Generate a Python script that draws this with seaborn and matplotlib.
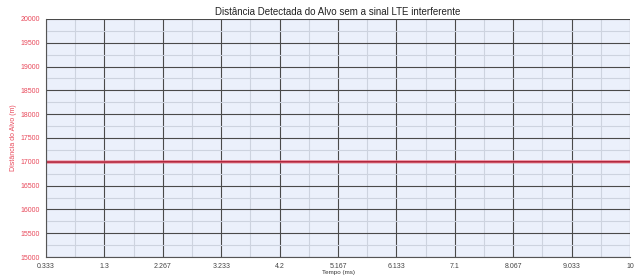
import numpy as np
import pandas as pd
import matplotlib
matplotlib.use("Agg")
import matplotlib.pyplot as plt
import seaborn as sns
from matplotlib.ticker import FixedLocator, MultipleLocator

# --- data ---
tempo_ms = [0.333, 1.3, 2.267, 3.233, 4.2, 5.167, 6.133, 7.1, 8.067, 9.033, 10.0]
distancia_m = [16995, 16995, 17000, 17000, 17000, 17000, 17000, 17000, 17000, 17000, 17000]
x_tick_labels = ["0.333", "1.3", "2.267", "3.233", "4.2", "5.167", "6.133", "7.1", "8.067", "9.033", "10"]
y_ticks = [15000, 15500, 16000, 16500, 17000, 17500, 18000, 18500, 19000, 19500, 20000]

df = pd.DataFrame({"Tempo": tempo_ms, "Distancia": distancia_m})

sns.set_style("white")
plt.rcParams["font.family"] = ["Liberation Sans", "DejaVu Sans"]

fig = plt.figure(figsize=(6.34, 2.76), dpi=100)
ax = fig.add_axes([46 / 634, 1 - 257 / 276, (630 - 46) / 634, (257 - 19) / 276])
ax.set_facecolor("#ebf0fb")

# minor / major grid
minor_x = [(tempo_ms[i] + tempo_ms[i + 1]) / 2 for i in range(len(tempo_ms) - 1)]
ax.xaxis.set_minor_locator(FixedLocator(minor_x))
ax.yaxis.set_minor_locator(MultipleLocator(250))
ax.grid(which="minor", color="#cdd3df", lw=0.8)
ax.grid(which="major", color="#4a4a4a", lw=0.8)
ax.set_axisbelow(True)

sns.lineplot(data=df, x="Tempo", y="Distancia", ax=ax, color="#f07a8a", lw=2.2)
sns.lineplot(data=df, x="Tempo", y="Distancia", ax=ax, color="#a01830", lw=0.9)

ax.set_xlim(tempo_ms[0], tempo_ms[-1])
ax.set_ylim(15000, 20000)
ax.set_xticks(tempo_ms)
ax.set_xticklabels(x_tick_labels)
ax.set_yticks(y_ticks)
ax.set_yticklabels([str(v) for v in y_ticks])

ax.tick_params(axis="both", which="major", labelsize=5, length=3, width=0.6, color="#555555", pad=1.5)
ax.tick_params(axis="both", which="minor", length=0)
ax.tick_params(axis="y", labelcolor="#e8485a")
ax.tick_params(axis="x", labelcolor="#444444")

for side in ["top", "right"]:
    ax.spines[side].set_visible(False)
for side in ["left", "bottom"]:
    ax.spines[side].set_color("#555555")
    ax.spines[side].set_linewidth(0.8)

ax.set_xlabel("Tempo (ms)", fontsize=4.5, color="#333333", labelpad=0)
ax.set_ylabel("Distância do Alvo (m)", fontsize=5, color="#e8485a", labelpad=2)
ax.set_title("Distância Detectada do Alvo sem a sinal LTE interferente", fontsize=7, color="#222222", pad=3)

fig.savefig("out.png", dpi=100)
